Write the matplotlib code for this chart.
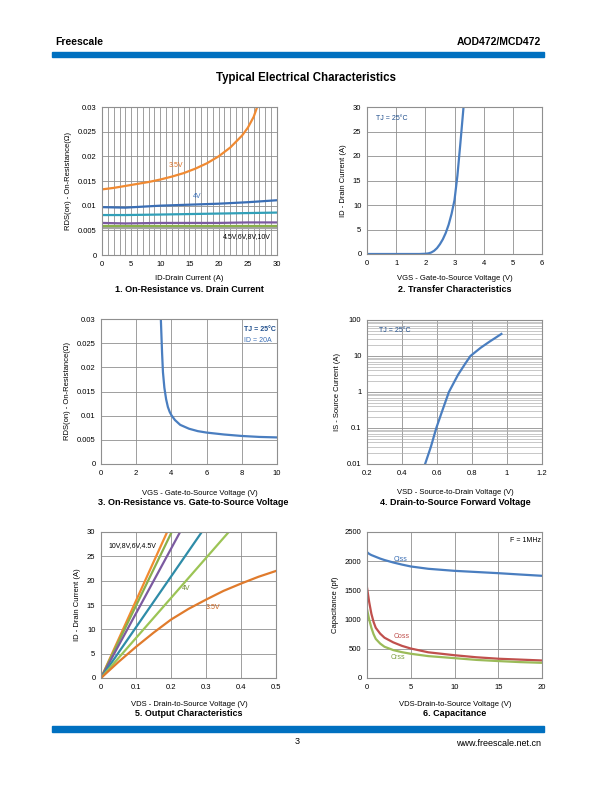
import matplotlib.pyplot as plt
import numpy as np

plt.rcParams['font.family'] = ['Liberation Sans', 'DejaVu Sans']

# 1. On-resistance vs drain current
id1 = [0, 2, 4, 6, 8, 10, 12, 14, 16, 18, 20, 22, 24, 25, 26, 26.6]
r35 = [0.0133, 0.0136, 0.0140, 0.0144, 0.0148, 0.0153, 0.0159, 0.0166, 0.0175, 0.0186, 0.0200, 0.0218, 0.0242, 0.0258, 0.0280, 0.0300]
id_flat = [0, 4, 10, 15, 20, 25, 30]
r40 = [0.0097, 0.0096, 0.0100, 0.0102, 0.0104, 0.0107, 0.0111]
r45 = [0.0081, 0.0081, 0.0082, 0.0083, 0.0084, 0.0085, 0.0086]
r60 = [0.0065, 0.0064, 0.0065, 0.0065, 0.0065, 0.0066, 0.0066]
r80 = [0.0058, 0.0058, 0.0058, 0.0058, 0.0058, 0.0058, 0.0058]
r10 = [0.0055, 0.0055, 0.0055, 0.0055, 0.0055, 0.0055, 0.0055]

# 2. Transfer characteristics
vgs2 = [0, 1.0, 1.8, 2.0, 2.1, 2.2, 2.3, 2.4, 2.5, 2.6, 2.7, 2.8, 2.9, 3.0, 3.1, 3.2, 3.31]
id2 = [0, 0, 0, 0.05, 0.12, 0.3, 0.65, 1.2, 2.0, 3.0, 4.3, 6.0, 8.2, 11.0, 16.0, 22.5, 30.0]

# 3. On-resistance vs gate voltage
vgs3 = [3.4, 3.43, 3.47, 3.52, 3.6, 3.7, 3.8, 3.9, 4.0, 4.2, 4.5, 5.0, 5.5, 6.0, 7.0, 8.0, 9.0, 10.0]
r3 = [0.030, 0.027, 0.023, 0.019, 0.0158, 0.0134, 0.0118, 0.0108, 0.0101, 0.0091, 0.0081, 0.0073, 0.0068, 0.0065, 0.0061, 0.0058, 0.0056, 0.0055]

# 4. Forward voltage
vsd = [0.532, 0.565, 0.596, 0.63, 0.668, 0.72, 0.76, 0.791, 0.85, 0.9, 0.968]
isd = [0.01, 0.03, 0.1, 0.3, 1.0, 3.0, 6.0, 10.0, 17.0, 25.0, 41.0]

# 5. Output characteristics
vds_end = [0.189, 0.202, 0.226, 0.288, 0.365]
out_colors = ['#F28A30', '#8AB04A', '#7B5AA0', '#2E8CA8', '#9CC455']
vds35 = [0, 0.05, 0.1, 0.15, 0.2, 0.25, 0.3, 0.35, 0.4, 0.45, 0.5]
id35 = [0, 3.3, 6.4, 9.3, 12.0, 14.2, 16.1, 17.9, 19.4, 20.8, 22.0]

# 6. Capacitance
vds6 = [0, 0.25, 0.5, 0.75, 1, 1.5, 2, 3, 4, 5, 7, 10, 12.5, 15, 17.5, 20]
ciss = [2156, 2125, 2105, 2090, 2075, 2045, 2020, 1978, 1942, 1910, 1870, 1835, 1815, 1795, 1772, 1750]
coss = [1550, 1300, 1100, 960, 860, 760, 690, 610, 550, 505, 440, 390, 355, 330, 315, 300]
crss = [1180, 1000, 860, 750, 670, 590, 535, 478, 442, 415, 375, 340, 310, 290, 272, 260]

W, H = 612, 792
fig = plt.figure(figsize=(W / 100, H / 100), dpi=100)
GRID = '#8f8f8f'
BLUE = '#1F4E8C'


def ax_at(l, t, r, b):
    ax = fig.add_axes([l / W, 1 - b / H, (r - l) / W, (b - t) / H])
    for s in ax.spines.values():
        s.set_color(GRID)
        s.set_linewidth(0.8)
    ax.tick_params(length=0, labelsize=5.5, pad=4)
    ax.set_axisbelow(True)
    return ax


def ftext(x, y, s, **kw):
    fig.text(x / W, 1 - y / H, s, **kw)


# header / footer
ftext(55, 42, 'Freescale', fontsize=7.5, fontweight='bold', va='center')
ftext(541, 42, 'AOD472/MCD472', fontsize=7.5, fontweight='bold', va='center', ha='right')
fig.patches.append(plt.Rectangle((52 / W, 1 - 56.7 / H), 492 / W, 4.4 / H,
                                 transform=fig.transFigure, color='#0070C0'))
ftext(306, 78, 'Typical Electrical Characteristics', fontsize=8.3, fontweight='bold', va='center', ha='center')
fig.patches.append(plt.Rectangle((52 / W, 1 - 731.7 / H), 492 / W, 5.7 / H,
                                 transform=fig.transFigure, color='#0070C0'))
ftext(297, 741, '3', fontsize=6.5, va='center', ha='center')
ftext(541, 743, 'www.freescale.net.cn', fontsize=6.5, va='center', ha='right')

lab = dict(fontsize=5.5)
cap = dict(fontsize=6.5, fontweight='bold', ha='center', va='center')

# panel 1
ax1 = ax_at(102, 107, 277, 255)
ax1.plot(id_flat, r10, color='#A6A6A6', lw=1.6)
ax1.plot(id_flat, r80, color='#8AB04A', lw=1.6)
ax1.plot(id_flat, r60, color='#7B5AA0', lw=1.6)
ax1.plot(id_flat, r45, color='#31A0B8', lw=1.6)
ax1.plot(id_flat, r40, color='#3A6EB5', lw=1.6)
ax1.plot(id1, r35, color='#F08A32', lw=1.6)
ax1.set_xlim(0, 30)
ax1.set_ylim(0, 0.03)
ax1.set_xticks(np.arange(0, 31, 5))
ax1.set_xticks(np.arange(0, 31, 1), minor=True)
ax1.set_yticks(np.arange(0, 0.0301, 0.005))
ax1.set_yticklabels(['0', '0.005', '0.01', '0.015', '0.02', '0.025', '0.03'])
ax1.tick_params(which='minor', length=0)
ax1.grid(True, which='both', axis='x', color=GRID, lw=0.6)
ax1.grid(True, axis='y', color=GRID, lw=0.6)
ax1.text(11.5, 0.0178, '3.5V', color='#E07020', fontsize=5)
ax1.text(15.5, 0.0115, '4V', color='#3A6EB5', fontsize=5)
ax1.text(20.8, 0.0035, '4.5V,6V,8V,10V', color='black', fontsize=5)
ax1.set_ylabel('RDS(on) - On-Resistance(Ω)', **lab)
ftext(189, 278, 'ID-Drain Current (A)', ha='center', va='center', **lab)
ftext(189, 290, '1. On-Resistance vs. Drain Current', **cap)

# panel 2
ax2 = ax_at(367, 107, 542, 254)
ax2.plot(vgs2, id2, color='#4A7EC0', lw=1.6)
ax2.set_xlim(0, 6)
ax2.set_ylim(0, 30)
ax2.set_xticks(range(0, 7))
ax2.set_yticks(range(0, 31, 5))
ax2.grid(True, color=GRID, lw=0.6)
ax2.text(0.3, 27.3, 'TJ = 25°C', color=BLUE, fontsize=5)
ax2.set_ylabel('ID - Drain Current (A)', **lab)
ftext(455, 279, 'VGS - Gate-to-Source Voltage (V)', ha='center', va='center', **lab)
ftext(455, 290, '2. Transfer Characteristics', **cap)

# panel 3
ax3 = ax_at(101, 319, 277, 464)
ax3.plot(vgs3, r3, color='#4A7EC0', lw=1.6)
ax3.set_xlim(0, 10)
ax3.set_ylim(0, 0.03)
ax3.set_xticks(range(0, 11, 2))
ax3.set_yticks(np.arange(0, 0.0301, 0.005))
ax3.set_yticklabels(['0', '0.005', '0.01', '0.015', '0.02', '0.025', '0.03'])
ax3.grid(True, color=GRID, lw=0.6)
ax3.text(8.1, 0.0275, 'TJ = 25°C', color=BLUE, fontsize=5, fontweight='bold')
ax3.text(8.1, 0.0252, 'ID = 20A', color='#3A6EB5', fontsize=5)
ax3.set_ylabel('RDS(on) - On-Resistance(Ω)', **lab)
ftext(200, 493, 'VGS - Gate-to-Source Voltage (V)', ha='center', va='center', **lab)
ftext(193, 503, '3. On-Resistance vs. Gate-to-Source Voltage', **cap)

# panel 4
ax4 = ax_at(367, 320, 542, 464)
ax4.semilogy(vsd, isd, color='#4A7EC0', lw=1.6)
ax4.set_xlim(0.2, 1.2)
ax4.set_ylim(0.01, 100)
ax4.set_xticks([0.2, 0.4, 0.6, 0.8, 1.0, 1.2])
ax4.set_xticklabels(['0.2', '0.4', '0.6', '0.8', '1', '1.2'])
ax4.set_yticks([0.01, 0.1, 1, 10, 100])
ax4.set_yticklabels(['0.01', '0.1', '1', '10', '100'])
ax4.tick_params(which='minor', length=0, labelleft=False)
ax4.grid(True, which='major', color=GRID, lw=0.6)
ax4.grid(True, which='minor', axis='y', color='#b0b0b0', lw=0.5)
ax4.text(0.27, 45, 'TJ = 25°C', color=BLUE, fontsize=5)
ax4.set_ylabel('IS - Source Current (A)', **lab)
ftext(455, 492, 'VSD - Source-to-Drain Voltage (V)', ha='center', va='center', **lab)
ftext(455, 503, '4. Drain-to-Source Forward Voltage', **cap)

# panel 5
ax5 = ax_at(101, 532, 276, 678)
for v, c in zip(vds_end, out_colors):
    ax5.plot([0, v], [0, 30], color=c, lw=1.6)
ax5.plot(vds35, id35, color='#E07B2C', lw=1.6)
ax5.set_xlim(0, 0.5)
ax5.set_ylim(0, 30)
ax5.set_xticks([0, 0.1, 0.2, 0.3, 0.4, 0.5])
ax5.set_xticklabels(['0', '0.1', '0.2', '0.3', '0.4', '0.5'])
ax5.set_yticks(range(0, 31, 5))
ax5.grid(True, color=GRID, lw=0.6)
ax5.text(0.02, 27.0, '10V,8V,6V,4.5V', fontsize=5)
ax5.text(0.23, 18.0, '4V', color='#6E8A30', fontsize=5)
ax5.text(0.3, 14.2, '3.5V', color='#C8601A', fontsize=5)
ax5.set_ylabel('ID - Drain Current (A)', **lab)
ftext(189, 704, 'VDS - Drain-to-Source Voltage (V)', ha='center', va='center', **lab)
ftext(189, 714, '5. Output Characteristics', **cap)

# panel 6
ax6 = ax_at(367, 532, 542, 678)
ax6.plot(vds6, ciss, color='#4A7EC0', lw=1.6)
ax6.plot(vds6, coss, color='#C0504D', lw=1.6)
ax6.plot(vds6, crss, color='#9BBB59', lw=1.6)
ax6.set_xlim(0, 20)
ax6.set_ylim(0, 2500)
ax6.set_xticks(range(0, 21, 5))
ax6.set_yticks(range(0, 2501, 500))
ax6.grid(True, color=GRID, lw=0.6)
ax6.text(3.0, 2000, 'Ciss', color='#3A6EB5', fontsize=5)
ax6.text(3.0, 680, 'Coss', color='#C0504D', fontsize=5)
ax6.text(2.7, 320, 'Crss', color='#7FA040', fontsize=5)
ax6.text(16.3, 2330, 'F = 1MHz', fontsize=5)
ax6.set_ylabel('Capacitance (pf)', **lab)
ftext(455, 704, 'VDS-Drain-to-Source Voltage (V)', ha='center', va='center', **lab)
ftext(455, 714, '6. Capacitance', **cap)

fig.savefig('out.png', dpi=100)
